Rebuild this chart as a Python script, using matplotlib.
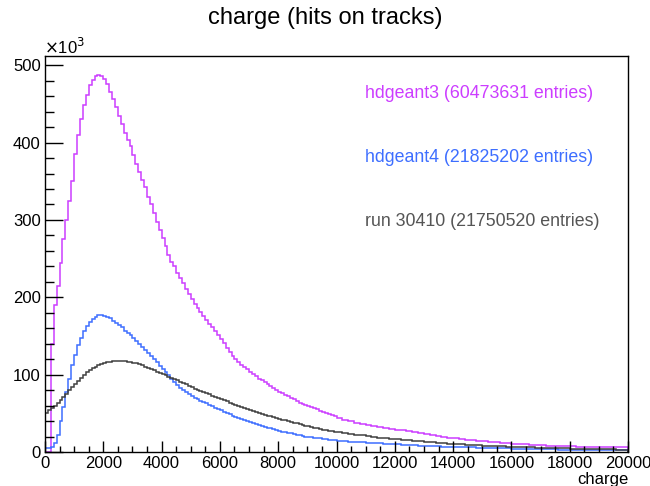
import numpy as np
import matplotlib
matplotlib.use("Agg")
import matplotlib.pyplot as plt
from matplotlib.ticker import MultipleLocator

plt.rcParams["font.family"] = ["Liberation Sans", "DejaVu Sans"]

# bin edges: 100 wide up to 10000, 200 wide in the tail
edges = np.concatenate([np.arange(0, 10000, 100), np.arange(10000, 20001, 200)])

# bin contents in units of 10^3
hdgeant3 = [0, 0, 140, 190, 215, 245, 275, 300, 325, 350,
            385, 410, 430, 448, 462, 474, 481, 486, 488, 486,
            482, 476, 466, 457, 446, 434, 424, 413, 403, 396,
            384, 373, 362, 352, 342, 330, 320, 309, 298, 287,
            277, 266, 255, 246, 240, 232, 225, 218, 211, 204,
            198, 192, 186, 181, 176, 171, 166, 161, 156, 151,
            146, 141, 135, 129, 124, 120, 116, 113, 110, 107,
            104, 101, 98, 95, 93, 90, 88, 85, 83, 80,
            78, 76, 74, 72, 70, 68, 66, 64, 62.5, 61,
            59.5, 58, 56.5, 55, 53.5, 52, 50.5, 49, 47.5, 46,
            # 200 wide from here
            44, 42, 40, 38, 36, 34.5, 33, 32, 31, 30,
            29, 28, 27, 26, 24.5, 23, 21.5, 20.5, 19.5, 18.5,
            17.5, 16.8, 16, 15.2, 14.5, 13.8, 13, 12.4, 11.8, 11.2,
            10.6, 10.2, 9.8, 9.4, 9, 8.6, 8.3, 8, 7.8, 7.5,
            7.3, 7.1, 7, 6.8, 6.6, 6.5, 6.3, 6.2, 6.1, 6]

hdgeant4 = [5, 5, 6, 12, 22, 40, 58, 78, 95, 112,
            126, 138, 148, 156, 163, 168, 172, 175, 177, 177,
            176, 175, 173, 170, 167, 164, 161, 157, 154, 151,
            147, 143, 140, 136, 132, 128, 124, 120, 116, 111,
            107, 103, 99, 95, 91, 87, 83, 80, 77, 75,
            72, 70, 68, 66, 64.5, 63, 61, 59, 57.5, 56,
            54, 52, 50, 48.5, 47, 45.5, 44, 42.5, 41, 40,
            38.5, 37, 36, 34.5, 33.5, 32.5, 31.5, 30.5, 29.5, 28.5,
            27.5, 26.5, 25.5, 24.5, 24, 23, 22.5, 21.5, 21, 20,
            19.5, 19, 18.5, 18, 17.5, 17, 16.5, 16, 15.5, 15,
            # 200 wide from here
            14.5, 14, 13.5, 13, 12.5, 12, 11.5, 11, 10.6, 10.2,
            9.8, 9.4, 9, 8.6, 8.3, 8, 7.7, 7.4, 7.1, 6.8,
            6.5, 6.3, 6.1, 5.9, 5.7, 5.5, 5.3, 5.1, 4.9, 4.7,
            4.5, 4.3, 4.1, 3.9, 3.7, 3.5, 3.4, 3.3, 3.2, 3.1,
            3.0, 2.9, 2.8, 2.7, 2.6, 2.5, 2.4, 2.3, 2.2, 2.1]

run30410 = [51, 54, 57, 60, 63, 67, 71, 75, 80, 84,
            88, 92, 96, 100, 103, 106, 108, 110, 112, 113.5,
            115, 116, 117, 117.5, 118, 118, 118, 117.5, 117, 116.5,
            115.5, 114.5, 113.5, 112, 110.5, 109, 107.5, 106, 104, 102.5,
            101, 99, 97.5, 96, 94.5, 92.5, 91, 89, 87.5, 85.5,
            84, 82, 80.5, 79, 77.5, 76, 74.5, 73, 71.5, 70,
            68.5, 67, 65.5, 63.5, 62, 60.5, 59, 58, 56.5, 55,
            54, 53, 51.5, 50.5, 49, 48, 47, 46, 45, 44,
            43, 42, 41, 40, 39, 38, 37, 36, 35, 34,
            33.5, 32.5, 31.5, 30.5, 30, 29, 28.5, 27.5, 27, 26,
            # 200 wide from here
            25.5, 24.5, 23.5, 22.5, 21.5, 20.5, 19.5, 18.5, 17.7, 17,
            16.3, 15.6, 15, 14.4, 13.8, 13.2, 12.6, 12, 11.4, 10.8,
            10.3, 9.8, 9.4, 9, 8.6, 8.2, 7.9, 7.6, 7.3, 7,
            6.7, 6.4, 6.1, 5.9, 5.7, 5.5, 5.3, 5.1, 4.9, 4.7,
            4.5, 4.3, 4.1, 3.9, 3.7, 3.5, 3.4, 3.3, 3.1, 3.0]

labels = ["hdgeant3 (60473631 entries)",
          "hdgeant4 (21825202 entries)",
          "run 30410 (21750520 entries)"]
colors = ["#cc3dff", "#3d6eff", "#404040"]
text_colors = ["#cc3dff", "#3d6eff", "#555555"]

fig = plt.figure(figsize=(6.5, 4.86), dpi=100)
ax = fig.add_axes([45/650, 34/486, 583/650, 396/486])

for vals, c in zip([hdgeant3, hdgeant4, run30410], colors):
    ax.stairs(vals, edges, color=c, linewidth=1.1)

ax.set_xlim(0, 20000)
ax.set_ylim(0, 512)

ax.xaxis.set_major_locator(MultipleLocator(2000))
ax.xaxis.set_minor_locator(MultipleLocator(500))
ax.yaxis.set_major_locator(MultipleLocator(100))
ax.yaxis.set_minor_locator(MultipleLocator(20))
ax.tick_params(which="both", direction="in", top=False, right=False,
               labelsize=12, width=1.0)
ax.tick_params(axis="y", which="major", length=13, pad=3)
ax.tick_params(axis="y", which="minor", length=6.5)
ax.tick_params(axis="x", which="major", length=8, pad=3)
ax.tick_params(axis="x", which="minor", length=4.3)
for s in ax.spines.values():
    s.set_linewidth(1.0)

fig.text(44/650, 1 - 47/486, r"$\times$10$^3$", fontsize=12, ha="left", va="center")
fig.text(628/650, 1 - 479/486, "charge", fontsize=12, ha="right", va="center")
fig.text(0.5, 1 - 18/486, "charge (hits on tracks)", fontsize=17, ha="center", va="center")

for i, (lab, c) in enumerate(zip(labels, text_colors)):
    fig.text(365/650, 1 - (93 + 64*i)/486, lab, fontsize=12.8, color=c,
             ha="left", va="center")

fig.savefig("out.png", dpi=100)
